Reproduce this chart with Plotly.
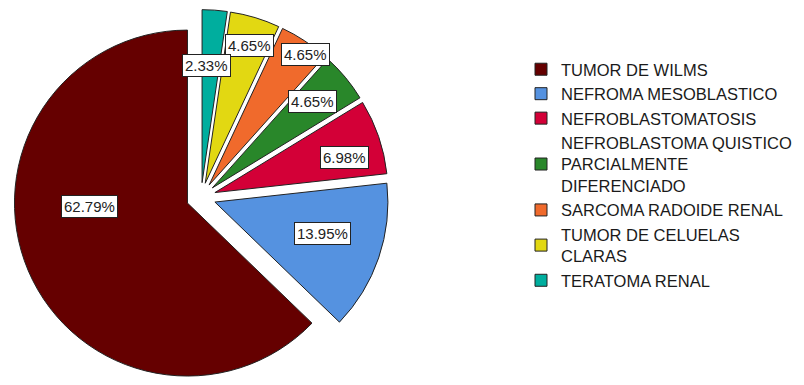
import plotly.graph_objects as go

# Diagnoses and their share of cases (%)
diagnoses = [
    "TUMOR DE WILMS",
    "NEFROMA MESOBLASTICO",
    "NEFROBLASTOMATOSIS",
    "NEFROBLASTOMA QUISTICO<br>PARCIALMENTE<br>DIFERENCIADO",
    "SARCOMA RADOIDE RENAL",
    "TUMOR DE CELUELAS<br>CLARAS",
    "TERATOMA RENAL",
]
percentages = [62.79, 13.95, 6.98, 4.65, 4.65, 4.65, 2.33]

slice_colors = ["#650000", "#5592E0", "#D30037", "#29872A", "#F06A2C", "#E2D812", "#00AE9E"]

W, H = 804, 385
dom_x = [0.0, 0.5]
dom_y = [0.0, 0.975]
pull = 0.085

# Pie geometry as plotly lays it out (pixels, y downward)
dom_w = W * (dom_x[1] - dom_x[0])
dom_h = H * (dom_y[1] - dom_y[0])
r = min(dom_w, dom_h) / 2 / (1 + pull)
cx = W * (dom_x[0] + dom_x[1]) / 2
cy = H * (1 - dom_y[0]) - dom_h / 2

# In counterclockwise mode plotly ends the first slice at `rotation`;
# shift it so the first slice runs counterclockwise from 12 o'clock.
first_angle = percentages[0] / sum(percentages) * 360
rotation = -first_angle

# Where each value box sits, relative to the pie centre in radius units
label_offsets = [
    (-0.646, 0.051),
    (0.703, 0.211),
    (0.829, -0.229),
    (0.646, -0.554),
    (0.606, -0.823),
    (0.280, -0.880),
    (0.029, -0.760),
]

fig = go.Figure(
    go.Pie(
        labels=diagnoses,
        values=percentages,
        sort=False,
        direction="counterclockwise",
        rotation=rotation,
        pull=[pull] * len(percentages),
        marker=dict(colors=slice_colors, line=dict(color="#222222", width=1)),
        textinfo="none",
        hoverinfo="label+percent",
        domain=dict(x=dom_x, y=dom_y),
    )
)

annotations = []
for p, (ox, oy) in zip(percentages, label_offsets):
    px = cx + ox * r
    py = cy + oy * r
    annotations.append(
        dict(
            x=px / W,
            y=1 - py / H,
            xref="paper",
            yref="paper",
            text=f"{p:.2f}%",
            showarrow=False,
            font=dict(family="Liberation Sans, Arial, sans-serif", size=15, color="#222222"),
            bgcolor="white",
            bordercolor="#222222",
            borderwidth=1,
            borderpad=2,
            xanchor="center",
            yanchor="middle",
        )
    )

fig.update_layout(
    width=W,
    height=H,
    margin=dict(l=0, r=0, t=0, b=0),
    paper_bgcolor="white",
    plot_bgcolor="white",
    annotations=annotations,
    legend=dict(
        x=521 / W,
        xanchor="left",
        y=1 - 175 / H,
        yanchor="middle",
        font=dict(family="Liberation Sans, Arial, sans-serif", size=16.5, color="#1a1a1a"),
        bgcolor="rgba(0,0,0,0)",
        traceorder="normal",
        itemclick=False,
        itemdoubleclick=False,
    ),
    showlegend=True,
)

fig.write_html("out.html")
